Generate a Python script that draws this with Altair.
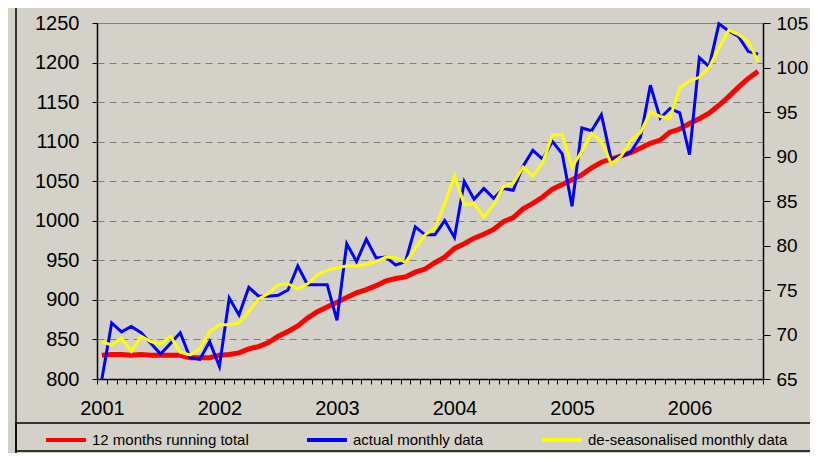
import altair as alt
import pandas as pd

# ---------------- data ----------------
years = ["2001", "2002", "2003", "2004", "2005", "2006"]

series_names = ["12 months running total", "actual monthly data",
                "de-seasonalised monthly data"]

running_total = [830, 831, 831, 830, 831, 830, 830, 830, 830, 827, 827, 827,
                 830, 831, 833, 838, 841, 846, 854, 860, 867, 877, 885, 891,
                 897, 903, 909, 913, 918, 924, 927, 929, 935, 939, 947, 954,
                 965, 971, 978, 983, 989, 999, 1004, 1015, 1022, 1030, 1040, 1046,
                 1052, 1058, 1067, 1074, 1078, 1082, 1086, 1092, 1098, 1102, 1112, 1116,
                 1123, 1129, 1136, 1146, 1157, 1169, 1180, 1189]

actual = [65.0, 71.3, 70.3, 70.9, 70.2, 69.0, 67.8, 69.0, 70.2, 67.4, 67.2, 69.2,
          66.4, 74.1, 72.2, 75.3, 74.3, 74.3, 74.4, 75.0, 77.7, 75.6, 75.6, 75.6,
          71.6, 80.2, 78.2, 80.7, 78.6, 78.7, 77.8, 78.2, 82.1, 81.2, 81.2, 82.8,
          80.9, 87.2, 85.2, 86.4, 85.3, 86.4, 86.2, 88.9, 90.7, 89.7, 91.7, 90.3,
          84.4, 93.2, 92.9, 94.7, 89.7, 90.0, 90.5, 92.2, 98.0, 94.3, 95.4, 94.9,
          90.2, 101.1, 100.1, 104.9, 104.1, 103.5, 101.8, 101.5]

deseasonalised = [69.2, 68.8, 69.6, 68.1, 69.8, 69.2, 68.9, 69.8, 68.0, 67.7, 68.4, 70.3,
                  71.1, 71.1, 71.3, 72.6, 74.0, 74.6, 75.6, 75.7, 75.1, 75.7, 76.7, 77.2,
                  77.5, 77.7, 77.7, 77.9, 78.2, 78.7, 78.6, 78.1, 79.7, 81.2, 81.9, 84.7,
                  87.8, 84.6, 84.7, 83.2, 84.6, 86.6, 87.0, 88.8, 87.8, 89.3, 92.4, 92.5,
                  88.8, 90.6, 92.6, 91.7, 89.2, 90.0, 91.8, 92.7, 95.0, 94.5, 94.3, 97.7,
                  98.5, 98.9, 100.0, 102.2, 104.2, 103.7, 102.9, 100.7]

left_ticks = list(range(800, 1251, 50))
right_ticks = list(range(65, 106, 5))

# ---------------- tables ----------------
n = len(running_total)
rows = []
for i in range(n):
    rows.append({"m": i, "series": series_names[0], "value": running_total[i]})
for i in range(n):
    rows.append({"m": i, "series": series_names[1], "value": actual[i]})
for i in range(n):
    rows.append({"m": i, "series": series_names[2], "value": deseasonalised[i]})
df = pd.DataFrame(rows)

BG = "#d4d2c8"
FONT = "Liberation Sans"

W, H = 666, 356
month_px = W / n

color_scale = alt.Scale(domain=series_names, range=["#ff0000", "#0000ff", "#ffff00"])

tick_vals = [k - 0.5 for k in range(n + 1)]
label_expr = ("((datum.value + 0.5) % 12 == 0 && datum.value < {last}) ? "
              "{yrs}[(datum.value + 0.5) / 12] : ''").format(last=n - 1, yrs=str(years))

x_enc = alt.X(
    "m:Q",
    scale=alt.Scale(domain=[-0.5, n - 0.5], nice=False, zero=False),
    axis=alt.Axis(values=tick_vals, labelExpr=label_expr, labelOffset=month_px / 2,
                  title=None, grid=False, tickSize=5, tickColor="black", tickWidth=1,
                  domainColor="black", domainWidth=1.5,
                  labelFont=FONT, labelFontSize=20, labelColor="black",
                  labelPadding=14, labelOverlap=False, labelFlush=False,
                  labelBound=False),
)

legend = alt.Legend(orient="none", legendX=-53, legendY=395, direction="horizontal",
                    title=None, symbolType="stroke", symbolSize=1600,
                    symbolStrokeWidth=4, labelFont=FONT, labelFontSize=15,
                    labelColor="black", labelOffset=4, columnPadding=50, padding=0,
                    labelLimit=400)

color_enc = alt.Color("series:N", scale=color_scale, legend=legend)

red = alt.Chart(df).transform_filter(
    alt.datum.series == series_names[0]
).mark_line(strokeWidth=5).encode(
    x=x_enc,
    y=alt.Y("value:Q",
            scale=alt.Scale(domain=[800, 1250], nice=False, zero=False),
            axis=alt.Axis(orient="left", values=left_ticks, format="d", title=None,
                          grid=True, gridDash=[7, 5], gridColor="#808080", gridWidth=1,
                          tickSize=5, tickColor="black", domainColor="black",
                          domainWidth=1.5, labelFont=FONT, labelFontSize=20,
                          labelColor="black", labelPadding=13)),
    color=color_enc,
)

monthly = alt.Chart(df).transform_filter(
    alt.datum.series != series_names[0]
).mark_line(strokeWidth=3).encode(
    x=x_enc,
    y=alt.Y("value:Q",
            scale=alt.Scale(domain=[65, 105], nice=False, zero=False),
            axis=alt.Axis(orient="right", values=right_ticks, format="d", title=None,
                          grid=False, tickSize=7, tickColor="black",
                          domainColor="black", domainWidth=1.5, labelFont=FONT,
                          labelFontSize=19, labelColor="black", labelPadding=6)),
    color=color_enc,
)

one = alt.Data(values=[{"k": 1}])

legend_box = alt.Chart(one).mark_rect(fillOpacity=0, stroke="black", strokeWidth=1.5).encode(
    x=alt.value(-81), x2=alt.value(720), y=alt.value(400), y2=alt.value(428)
)
frame_left = alt.Chart(one).mark_rule(stroke="black", strokeWidth=1.5).encode(
    x=alt.value(-81), y=alt.value(-20), y2=alt.value(460)
)

chart = alt.layer(red, monthly, legend_box, frame_left).resolve_scale(
    y="independent"
).properties(
    width=W, height=H,
    padding={"left": 89, "top": 15, "right": 47, "bottom": 74},
    autosize=alt.AutoSizeParams(type="none"),
    background=BG,
).configure_view(stroke="#808080", strokeWidth=1)

chart.save("out.html", embed_options={"renderer": "svg", "actions": False})
